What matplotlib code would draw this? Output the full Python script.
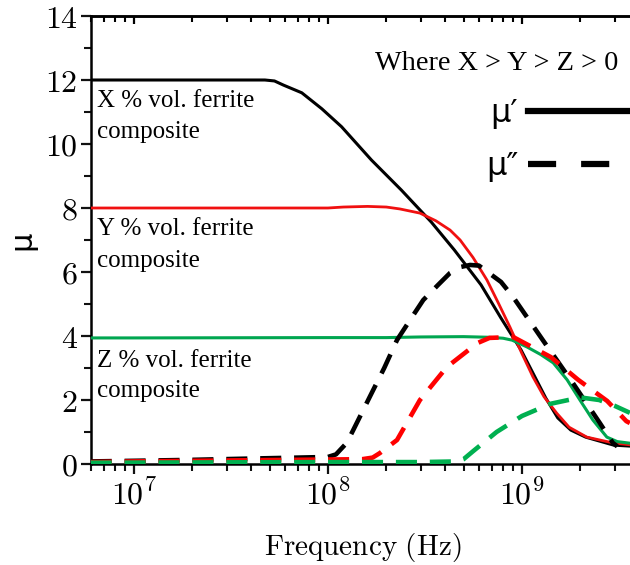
import numpy as np
import matplotlib
matplotlib.use("Agg")
import matplotlib.pyplot as plt
from matplotlib.lines import Line2D
from matplotlib.ticker import FixedLocator, FuncFormatter, NullFormatter, LogLocator

plt.rcParams['mathtext.fontset'] = 'cm'

# ---------------- data (frequency in Hz, permeability) ----------------
f_black_solid = [5.98e6, 4.0e7, 4.73e7, 5.3e7, 5.9e7, 7.33e7, 9.3e7, 1.175e8, 1.675e8, 2.39e8,
                 3.41e8, 4.48e8, 6.15e8, 7.8e8, 9.9e8, 1.153e9, 1.327e9, 1.53e9, 1.786e9, 2.13e9,
                 2.97e9, 3.6e9]
mu_black_solid = [12.0, 12.0, 12.0, 11.97, 11.84, 11.6, 11.1, 10.54, 9.5, 8.56,
                  7.56, 6.69, 5.6, 4.56, 3.56, 2.78, 2.06, 1.44, 1.06, 0.84,
                  0.59, 0.56]

f_red_solid = [5.98e6, 2.0e7, 6.0e7, 1.0e8, 1.2e8, 1.6e8, 2.0e8, 2.35e8, 2.98e8, 3.6e8,
               4.26e8, 4.8e8, 5.6e8, 6.6e8, 7.6e8, 8.67e8, 1.0e9, 1.14e9, 1.3e9, 1.51e9,
               1.75e9, 2.16e9, 2.94e9, 3.6e9]
mu_red_solid = [8.0, 8.0, 8.0, 8.0, 8.03, 8.05, 8.03, 7.97, 7.84, 7.6,
                7.31, 7.0, 6.45, 5.75, 5.0, 4.28, 3.45, 2.72, 2.1, 1.59,
                1.15, 0.84, 0.66, 0.6]

f_green_solid = [5.98e6, 1.0e7, 1.0e8, 2.0e8, 3.0e8, 5.0e8, 6.8e8, 8.0e8, 8.9e8, 1.06e9,
                 1.25e9, 1.45e9, 1.71e9, 1.99e9, 2.32e9, 2.74e9, 3.1e9, 3.6e9]
mu_green_solid = [3.94, 3.94, 3.95, 3.95, 3.97, 3.98, 3.96, 3.93, 3.87, 3.66,
                  3.42, 3.16, 2.63, 2.0, 1.375, 0.84, 0.7, 0.65]

f_black_dash = [5.98e6, 1.0e7, 2.0e7, 4.0e7, 7.0e7, 1.0e8, 1.1e8, 1.25e8, 1.35e8, 1.64e8,
                1.95e8, 2.27e8, 2.69e8, 3.1e8, 3.7e8, 4.26e8, 4.86e8, 5.4e8, 6.0e8, 7.8e8,
                9.0e8, 1.28e9, 1.83e9, 2.52e9, 2.94e9, 3.1e9]
mu_black_dash = [0.08, 0.1, 0.13, 0.17, 0.2, 0.22, 0.3, 0.66, 1.06, 2.09,
                 3.0, 3.875, 4.56, 5.125, 5.6, 5.97, 6.16, 6.22, 6.2, 5.69,
                 5.22, 3.875, 2.53, 1.28, 0.66, 0.55]

f_red_dash = [5.98e6, 1.0e7, 3.0e7, 1.0e8, 1.5e8, 1.7e8, 1.85e8, 2.27e8, 2.98e8, 4.1e8,
              5.9e8, 6.8e8, 9.0e8, 1.41e9, 1.95e9, 2.75e9, 3.45e9, 3.6e9]
mu_red_dash = [0.06, 0.08, 0.11, 0.14, 0.15, 0.2, 0.34, 0.75, 2.0, 3.03,
               3.78, 3.94, 3.97, 3.34, 2.63, 1.97, 1.34, 1.28]

f_green_dash = [5.98e6, 1.0e8, 3.0e8, 4.6e8, 5.0e8, 5.6e8, 7.4e8, 1.0e9, 1.4e9, 2.0e9,
                2.5e9, 3.0e9, 3.6e9]
mu_green_dash = [0.04, 0.06, 0.06, 0.08, 0.15, 0.4, 1.0, 1.5, 1.88, 2.08,
                 2.0, 1.82, 1.6]

composite_labels = ["X % vol. ferrite", "Y % vol. ferrite", "Z % vol. ferrite"]
note_text = "Where X > Y > Z > 0"
legend_labels = ["\u03bc\u2032", "\u03bc\u2033"]
y_ticks = [0, 2, 4, 6, 8, 10, 12, 14]

# ---------------- styling ----------------
BLACK = "#000000"
RED = "#f01010"
GREEN = "#00a650"
SERIF = ["Liberation Serif", "DejaVu Serif"]
SANS = ["DejaVu Sans"]

fig = plt.figure(figsize=(6.3, 5.65), dpi=100)
W, H = 630.0, 565.0
ax_l, ax_r, ax_b, ax_t = 90.7, 630.0, 464.0, 16.0
ax = fig.add_axes([ax_l / W, 1 - ax_b / H, (ax_r - ax_l) / W, (ax_b - ax_t) / H])

ax.set_xscale("log")
ax.set_xlim(10 ** 6.777, 10 ** 9.557)
ax.set_ylim(0, 14)

dash = (0, (4.6, 2.8))
ax.plot(f_black_solid, mu_black_solid, color=BLACK, lw=2.2, zorder=3)
ax.plot(f_red_solid, mu_red_solid, color=RED, lw=2.0, zorder=3)
ax.plot(f_green_solid, mu_green_solid, color=GREEN, lw=2.2, zorder=3)
ax.plot(f_black_dash, mu_black_dash, color=BLACK, lw=3.3, ls=dash, zorder=4)
ax.plot(f_red_dash, mu_red_dash, color="#ff0000", lw=3.3, ls=dash, zorder=5)
ax.plot(f_green_dash, mu_green_dash, color="#00b050", lw=3.3, ls=dash, zorder=6)

# ticks
ax.yaxis.set_major_locator(FixedLocator(y_ticks))
ax.yaxis.set_minor_locator(FixedLocator([1, 3, 5, 7, 9, 11, 13]))
ax.yaxis.set_major_formatter(FuncFormatter(lambda v, p: r"$%d$" % v))
ax.xaxis.set_major_locator(LogLocator(base=10, numticks=10))
ax.xaxis.set_minor_locator(LogLocator(base=10, subs=np.arange(2, 10), numticks=20))
ax.xaxis.set_major_formatter(FuncFormatter(lambda v, p: r"$10^{%d}$" % round(np.log10(v))))
ax.xaxis.set_minor_formatter(NullFormatter())

ax.tick_params(axis="both", which="major", direction="out", length=7.5, width=1.6,
               labelsize=23, color="#111111")
ax.tick_params(axis="both", which="minor", direction="out", length=4.8, width=1.5, color="#111111")
ax.tick_params(axis="y", which="major", pad=2)
ax.tick_params(axis="x", which="major", pad=4)
ax.tick_params(top=False, right=False)

for s in ("left", "bottom", "top"):
    ax.spines[s].set_linewidth(1.8)
ax.spines["right"].set_visible(False)

top = ax.secondary_xaxis("top")
top.xaxis.set_major_locator(LogLocator(base=10, numticks=10))
top.xaxis.set_minor_locator(LogLocator(base=10, subs=np.arange(2, 10), numticks=20))
top.tick_params(which="major", direction="in", length=6, width=1.6, labeltop=False)
top.tick_params(which="minor", direction="in", length=4.5, width=1.5)
top.xaxis.set_major_formatter(NullFormatter())
top.xaxis.set_minor_formatter(NullFormatter())
top.spines["top"].set_linewidth(1.8)

# axis labels
ax.text(0.505, (464 - 555) / 448.0, r"$\mathrm{Frequency\ (Hz)}$", transform=ax.transAxes,
        ha="center", va="baseline", fontsize=21)
ax.text((22 - ax_l) / (ax_r - ax_l), 0.5, "\u03bc", transform=ax.transAxes, rotation=90,
        ha="center", va="center", fontsize=22, family=SANS)

# annotations
tr = ax.get_yaxis_transform()
x0 = (97 - ax_l) / (ax_r - ax_l)
first_baselines = [11.16, 7.16, 3.04]
second_baselines = [10.18, 6.17, 2.10]
for lab, b1, b2 in zip(composite_labels, first_baselines, second_baselines):
    ax.text(x0, b1, lab, transform=tr, ha="left", va="baseline", fontsize=18, family=SERIF)
    ax.text(x0, b2, "composite", transform=tr, ha="left", va="baseline", fontsize=18, family=SERIF)

ax.text((375 - ax_l) / (ax_r - ax_l), 12.31, note_text, transform=tr, ha="left",
        va="baseline", fontsize=20.3, family=SERIF)

h1 = Line2D([], [], color=BLACK, lw=4.5, ls="-")
h2 = Line2D([], [], color=BLACK, lw=4.5, ls=(0, (4.5, 4.0)))
ax.legend([h1, h2], legend_labels, loc="upper left",
          bbox_to_anchor=((486 - ax_l) / (ax_r - ax_l), (464 - 98) / 448.0),
          frameon=False, markerfirst=False, handlelength=3.6, handletextpad=0.3,
          labelspacing=0.7, borderpad=0, borderaxespad=0,
          prop={"family": SANS, "size": 23})

fig.savefig("out.png", dpi=100)
